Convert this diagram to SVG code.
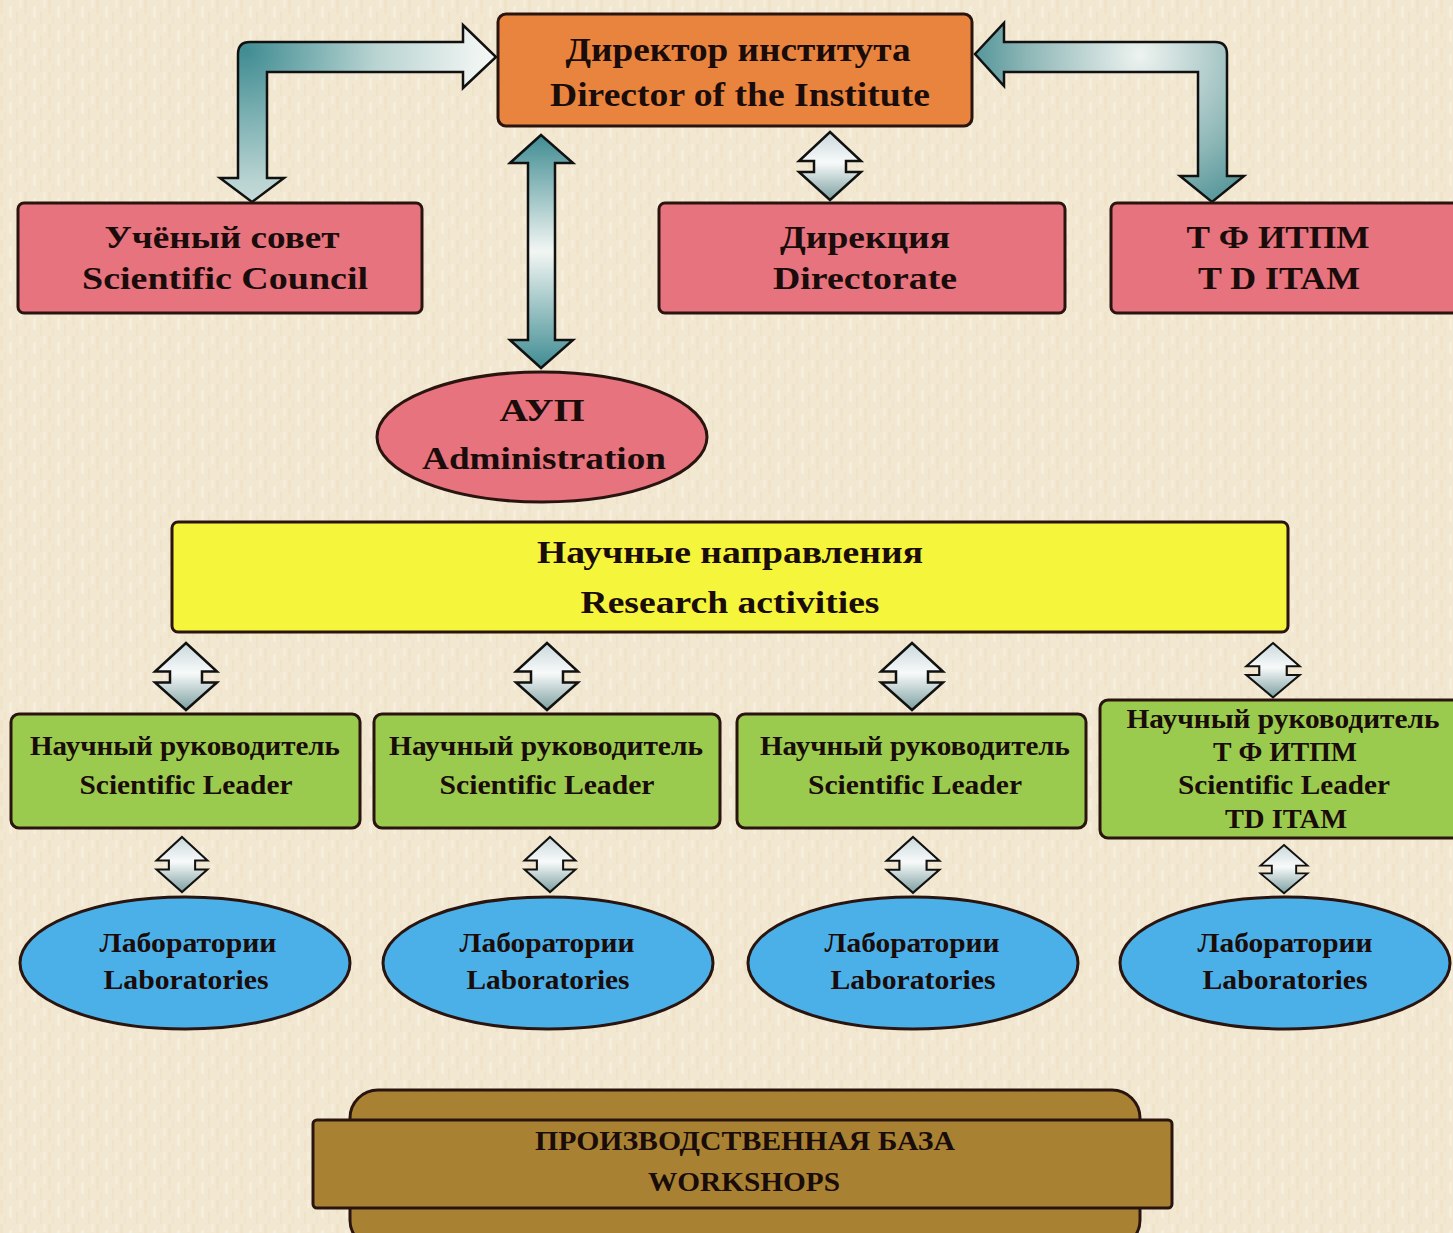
<svg xmlns="http://www.w3.org/2000/svg" xmlns:xlink="http://www.w3.org/1999/xlink" width="1453" height="1233" viewBox="0 0 1453 1233">
<style>
.t{font-family:"Liberation Serif","DejaVu Serif",serif;font-weight:bold;fill:#1a0c0a;text-anchor:middle}
.box{stroke:#2a140f;stroke-width:3}
.arr{stroke:#111;stroke-width:2.5;stroke-linejoin:miter}
</style>
<defs>
<pattern id="bg" width="24" height="24" patternUnits="userSpaceOnUse">
<rect width="24" height="24" fill="#F2E8D2"/>
<rect x="0" y="0" width="3" height="14" fill="#EFE3CA"/>
<rect x="9" y="6" width="3" height="12" fill="#F6EEDD"/>
<rect x="16" y="12" width="2" height="12" fill="#EEE2C8"/>
<rect x="19" y="0" width="3" height="8" fill="#F5ECDA"/>
<rect x="4" y="16" width="2" height="8" fill="#F0E4CC"/>
</pattern>
<radialGradient id="gL" gradientUnits="userSpaceOnUse" cx="245" cy="50" r="240">
<stop offset="0" stop-color="#3F8C92"/>
<stop offset="0.55" stop-color="#B9D4D2"/>
<stop offset="1" stop-color="#F2F6F3"/>
</radialGradient>
<radialGradient id="gR" gradientUnits="userSpaceOnUse" cx="1140" cy="55" r="190">
<stop offset="0" stop-color="#EEF3F0"/>
<stop offset="0.6" stop-color="#8DB6B6"/>
<stop offset="1" stop-color="#3A878D"/>
</radialGradient>
<linearGradient id="gV" gradientUnits="userSpaceOnUse" x1="0" y1="135" x2="0" y2="368">
<stop offset="0" stop-color="#3F8C92"/>
<stop offset="0.5" stop-color="#F2F6F3"/>
<stop offset="1" stop-color="#3F8C92"/>
</linearGradient>
<linearGradient id="gS" x1="0" y1="0" x2="0" y2="1">
<stop offset="0" stop-color="#C9D8DB"/>
<stop offset="0.45" stop-color="#F8FAFA"/>
<stop offset="1" stop-color="#7C9FA0"/>
</linearGradient>
<path id="dbl" d="M0,0 L31,29 L16,29 L16,40 L31,40 L0,68 L-31,40 L-16,40 L-16,29 L-31,29 Z"/>
</defs>
<rect width="1453" height="1233" fill="url(#bg)"/>

<g id="connectors">
<path class="arr" fill="url(#gL)" d="M238,178 L238,54 Q238,42 250,42 L463,42 L463,25 L496,57 L463,88 L463,72 L267,72 L267,178 L284,178 L252,202 L220,178 Z"/>
<path class="arr" fill="url(#gR)" d="M975,54 L1004,23 L1004,42 L1215,42 Q1227,42 1227,54 L1227,176 L1244,176 L1212,202 L1180,176 L1198,176 L1198,72 L1004,72 L1004,86 Z"/>
<path class="arr" fill="url(#gV)" d="M541,135 L573,163 L555,163 L555,340 L573,340 L541,368 L510,340 L528,340 L528,163 L510,163 Z"/>
<g fill="url(#gS)" stroke="#111" stroke-width="2.5">
<use xlink:href="#dbl" href="#dbl" transform="translate(830,132)"/>
<use xlink:href="#dbl" href="#dbl" transform="translate(186,643) scale(1,0.985)"/>
<use xlink:href="#dbl" href="#dbl" transform="translate(547,643) scale(1,0.985)"/>
<use xlink:href="#dbl" href="#dbl" transform="translate(912,643) scale(1,0.985)"/>
<use xlink:href="#dbl" href="#dbl" transform="translate(1273,643) scale(0.86,0.8)"/>
<use xlink:href="#dbl" href="#dbl" transform="translate(182,837) scale(0.82,0.81)"/>
<use xlink:href="#dbl" href="#dbl" transform="translate(550,837) scale(0.82,0.81)"/>
<use xlink:href="#dbl" href="#dbl" transform="translate(913,837) scale(0.85,0.82)"/>
<use xlink:href="#dbl" href="#dbl" transform="translate(1284,845) scale(0.76,0.71)"/>
</g>
</g>

<g id="director">
<rect class="box" x="498" y="14" width="474" height="112" rx="8" fill="#E8843E"/>
<text class="t" x="738" y="61" font-size="33" textLength="345" lengthAdjust="spacingAndGlyphs">Директор института</text>
<text class="t" x="740" y="106" font-size="33" textLength="380" lengthAdjust="spacingAndGlyphs">Director of the Institute</text>
</g>
<g id="council">
<rect class="box" x="18" y="203" width="404" height="110" rx="6" fill="#E6737E"/>
<text class="t" x="222" y="248" font-size="32" textLength="235" lengthAdjust="spacingAndGlyphs">Учёный совет</text>
<text class="t" x="225" y="289" font-size="32" textLength="286" lengthAdjust="spacingAndGlyphs">Scientific Council</text>
</g>
<g id="directorate">
<rect class="box" x="659" y="203" width="406" height="110" rx="6" fill="#E6737E"/>
<text class="t" x="865" y="248" font-size="32" textLength="170" lengthAdjust="spacingAndGlyphs">Дирекция</text>
<text class="t" x="865" y="289" font-size="32" textLength="184" lengthAdjust="spacingAndGlyphs">Directorate</text>
</g>
<g id="tditam">
<rect class="box" x="1111" y="203" width="360" height="110" rx="6" fill="#E6737E"/>
<text class="t" x="1278" y="248" font-size="32" textLength="183" lengthAdjust="spacingAndGlyphs">Т Ф ИТПМ</text>
<text class="t" x="1279" y="289" font-size="32" textLength="162" lengthAdjust="spacingAndGlyphs">T D ITAM</text>
</g>
<g id="aup">
<ellipse class="box" cx="542" cy="437" rx="165" ry="65" fill="#E6737E"/>
<text class="t" x="542" y="421" font-size="32" textLength="85" lengthAdjust="spacingAndGlyphs">АУП</text>
<text class="t" x="544" y="469" font-size="32" textLength="244" lengthAdjust="spacingAndGlyphs">Administration</text>
</g>
<g id="research">
<rect class="box" x="172" y="522" width="1116" height="110" rx="6" fill="#F5F53C"/>
<text class="t" x="730" y="563" font-size="32" textLength="386" lengthAdjust="spacingAndGlyphs">Научные направления</text>
<text class="t" x="730" y="613" font-size="32" textLength="299" lengthAdjust="spacingAndGlyphs">Research activities</text>
</g>
<g id="leader1">
<rect class="box" x="11" y="714" width="349" height="114" rx="8" fill="#9BCB4E"/>
<text class="t" x="185" y="755" font-size="28" textLength="310" lengthAdjust="spacingAndGlyphs">Научный руководитель</text>
<text class="t" x="186" y="794" font-size="28" textLength="213" lengthAdjust="spacingAndGlyphs">Scientific Leader</text>
</g>
<g id="leader2">
<rect class="box" x="374" y="714" width="346" height="114" rx="8" fill="#9BCB4E"/>
<text class="t" x="546" y="755" font-size="28" textLength="314" lengthAdjust="spacingAndGlyphs">Научный руководитель</text>
<text class="t" x="547" y="794" font-size="28" textLength="215" lengthAdjust="spacingAndGlyphs">Scientific Leader</text>
</g>
<g id="leader3">
<rect class="box" x="737" y="714" width="349" height="114" rx="8" fill="#9BCB4E"/>
<text class="t" x="915" y="755" font-size="28" textLength="310" lengthAdjust="spacingAndGlyphs">Научный руководитель</text>
<text class="t" x="915" y="794" font-size="28" textLength="214" lengthAdjust="spacingAndGlyphs">Scientific Leader</text>
</g>
<g id="leader4">
<rect class="box" x="1100" y="700" width="370" height="138" rx="8" fill="#9BCB4E"/>
<text class="t" x="1283" y="728" font-size="27" textLength="313" lengthAdjust="spacingAndGlyphs">Научный руководитель</text>
<text class="t" x="1285" y="761" font-size="27" textLength="144" lengthAdjust="spacingAndGlyphs">Т Ф ИТПМ</text>
<text class="t" x="1284" y="794" font-size="27" textLength="212" lengthAdjust="spacingAndGlyphs">Scientific Leader</text>
<text class="t" x="1286" y="828" font-size="27" textLength="122" lengthAdjust="spacingAndGlyphs">TD ITAM</text>
</g>
<g id="lab1">
<ellipse class="box" cx="185" cy="963" rx="165" ry="66" fill="#4CB0E8" stroke="#0d1a33"/>
<text class="t" x="188" y="952" font-size="28" textLength="177" lengthAdjust="spacingAndGlyphs" fill="#0d1430">Лаборатории</text>
<text class="t" x="186" y="989" font-size="28" textLength="165" lengthAdjust="spacingAndGlyphs" fill="#0d1430">Laboratories</text>
</g>
<g id="lab2">
<ellipse class="box" cx="548" cy="963" rx="165" ry="66" fill="#4CB0E8" stroke="#0d1a33"/>
<text class="t" x="547" y="952" font-size="28" textLength="175" lengthAdjust="spacingAndGlyphs" fill="#0d1430">Лаборатории</text>
<text class="t" x="548" y="989" font-size="28" textLength="163" lengthAdjust="spacingAndGlyphs" fill="#0d1430">Laboratories</text>
</g>
<g id="lab3">
<ellipse class="box" cx="913" cy="963" rx="165" ry="66" fill="#4CB0E8" stroke="#0d1a33"/>
<text class="t" x="912" y="952" font-size="28" textLength="175" lengthAdjust="spacingAndGlyphs" fill="#0d1430">Лаборатории</text>
<text class="t" x="913" y="989" font-size="28" textLength="165" lengthAdjust="spacingAndGlyphs" fill="#0d1430">Laboratories</text>
</g>
<g id="lab4">
<ellipse class="box" cx="1285" cy="963" rx="165" ry="66" fill="#4CB0E8" stroke="#0d1a33"/>
<text class="t" x="1285" y="952" font-size="28" textLength="175" lengthAdjust="spacingAndGlyphs" fill="#0d1430">Лаборатории</text>
<text class="t" x="1285" y="989" font-size="28" textLength="165" lengthAdjust="spacingAndGlyphs" fill="#0d1430">Laboratories</text>
</g>
<g id="workshops">
<rect class="box" x="350" y="1090" width="790" height="158" rx="28" fill="#A88232"/>
<rect class="box" x="313" y="1120" width="859" height="88" rx="4" fill="#A88232"/>
<text class="t" x="745" y="1150" font-size="28" textLength="420" lengthAdjust="spacingAndGlyphs">ПРОИЗВОДСТВЕННАЯ БАЗА</text>
<text class="t" x="744" y="1191" font-size="28" textLength="192" lengthAdjust="spacingAndGlyphs">WORKSHOPS</text>
</g>
</svg>
